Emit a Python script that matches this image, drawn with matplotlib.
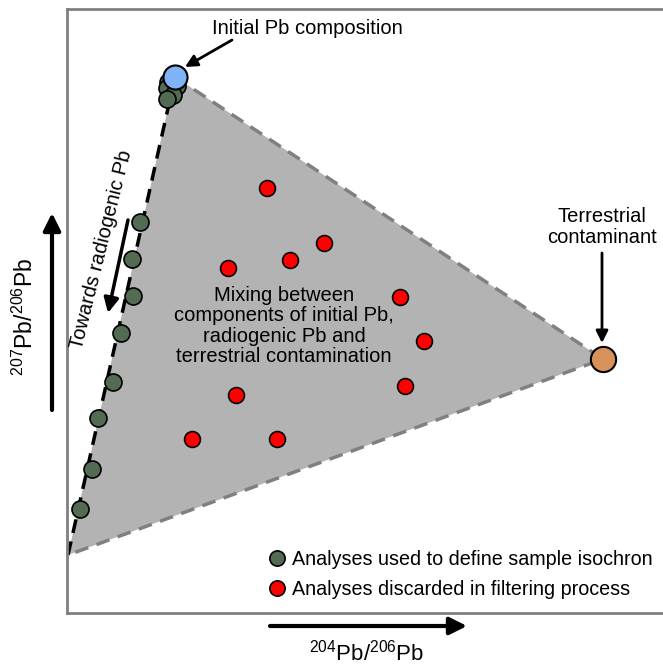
import matplotlib
matplotlib.use("Agg")
import matplotlib.pyplot as plt
from matplotlib.lines import Line2D

plt.rcParams['font.family'] = ['Liberation Sans', 'DejaVu Sans']
plt.rcParams['mathtext.fontset'] = 'custom'
plt.rcParams['mathtext.rm'] = 'Liberation Sans'

# end members (schematic units)
initial_pb = (108, 536)
contaminant = (536, 254)
isochron_start = (1, 58)

# analyses on the isochron
green_x = [101, 110, 100, 106, 100, 73, 65, 66, 54, 46, 31, 25, 13]
green_y = [531, 527, 525, 518, 514, 391, 354, 317, 280, 231, 195, 144, 104]

# analyses thrown out
red_x = [200, 257, 223, 161, 333, 357, 338, 169, 125, 210]
red_y = [425, 370, 353, 345, 316, 272, 227, 218, 174, 174]

FS = 14.5

W, H = 663, 665
fig = plt.figure(figsize=(W / 100, H / 100), dpi=100)
ax = fig.add_axes([67 / W, 52 / H, (W - 67) / W, 604 / H])
ax.set_xlim(0, 596)
ax.set_ylim(0, 604)
ax.set_xticks([])
ax.set_yticks([])
for s in ['left', 'bottom', 'top']:
    ax.spines[s].set_color('#808080')
    ax.spines[s].set_linewidth(2)
ax.spines['right'].set_visible(False)

# mixing triangle
tri_x = [isochron_start[0], initial_pb[0], contaminant[0]]
tri_y = [isochron_start[1], initial_pb[1], contaminant[1]]
ax.fill(tri_x, tri_y, color='#b3b3b3', lw=0, zorder=1)
ax.plot([initial_pb[0], contaminant[0], isochron_start[0]],
        [initial_pb[1], contaminant[1], isochron_start[1]],
        ls=(0, (4, 2.5)), color='#808080', lw=2.5, zorder=2)
ax.plot([isochron_start[0], initial_pb[0]], [isochron_start[1], initial_pb[1]],
        ls=(0, (4, 2.5)), color='black', lw=2.5, zorder=2)

ax.scatter(red_x, red_y, s=130, c='#ff0000', edgecolors='black', lw=1.2, zorder=4)
ax.scatter(green_x, green_y, s=150, c='#526b52', edgecolors='black', lw=1.2, zorder=4)
ax.scatter(*initial_pb, s=300, c='#80b3f5', edgecolors='black', lw=1.5, zorder=5)
ax.scatter(*contaminant, s=330, c='#d9915a', edgecolors='black', lw=1.5, zorder=5)

arw = dict(arrowstyle='-|>', color='black', lw=2, mutation_scale=18, shrinkA=0, shrinkB=0)
ax.annotate('', xy=(118, 546), xytext=(165, 573), arrowprops=arw)
ax.text(145, 585, 'Initial Pb composition', fontsize=FS, ha='left', va='center')

ax.annotate('', xy=(535, 270), xytext=(535, 360), arrowprops=arw)
ax.text(535, 386, 'Terrestrial\ncontaminant', fontsize=FS, ha='center', va='center',
        linespacing=1.1)

ax.text(217, 287, 'Mixing between\ncomponents of initial Pb,\nradiogenic Pb and\nterrestrial contamination',
        fontsize=FS, ha='center', va='center', linespacing=1.1)

ax.text(35, 363, 'Towards radiogenic Pb', fontsize=FS, ha='center', va='center',
        rotation=76, rotation_mode='anchor')
ax.annotate('', xy=(41, 300), xytext=(61, 393),
            arrowprops=dict(arrowstyle='-|>', color='black', lw=2.5, mutation_scale=22,
                            shrinkA=0, shrinkB=0))

handles = [Line2D([], [], ls='', marker='o', ms=11, mfc='#526b52', mec='black', mew=1.2),
           Line2D([], [], ls='', marker='o', ms=11, mfc='#ff0000', mec='black', mew=1.2)]
ax.legend(handles, ['Analyses used to define sample isochron',
                    'Analyses discarded in filtering process'],
          loc='upper left', bbox_to_anchor=(190 / 596, 71 / 604), frameon=False,
          fontsize=14.2, handletextpad=0.2, handlelength=1.2, borderaxespad=0,
          labelspacing=0.55)

# axis arrows outside the box
big = dict(arrowstyle='-|>', color='black', lw=3, mutation_scale=26, shrinkA=0, shrinkB=0)
fig.patches.append(matplotlib.patches.FancyArrowPatch((52, 255), (52, 452),
                                                      transform=None, **big))
fig.patches.append(matplotlib.patches.FancyArrowPatch((270, 39), (467, 39),
                                                      transform=None, **big))
fig.text(25 / W, 348 / H, r'$^{207}$Pb/$^{206}$Pb', fontsize=16.5, rotation=90,
         ha='center', va='center')
fig.text(367 / W, 12 / H, r'$^{204}$Pb/$^{206}$Pb', fontsize=16, ha='center', va='center')

fig.savefig('out.png', dpi=100)
